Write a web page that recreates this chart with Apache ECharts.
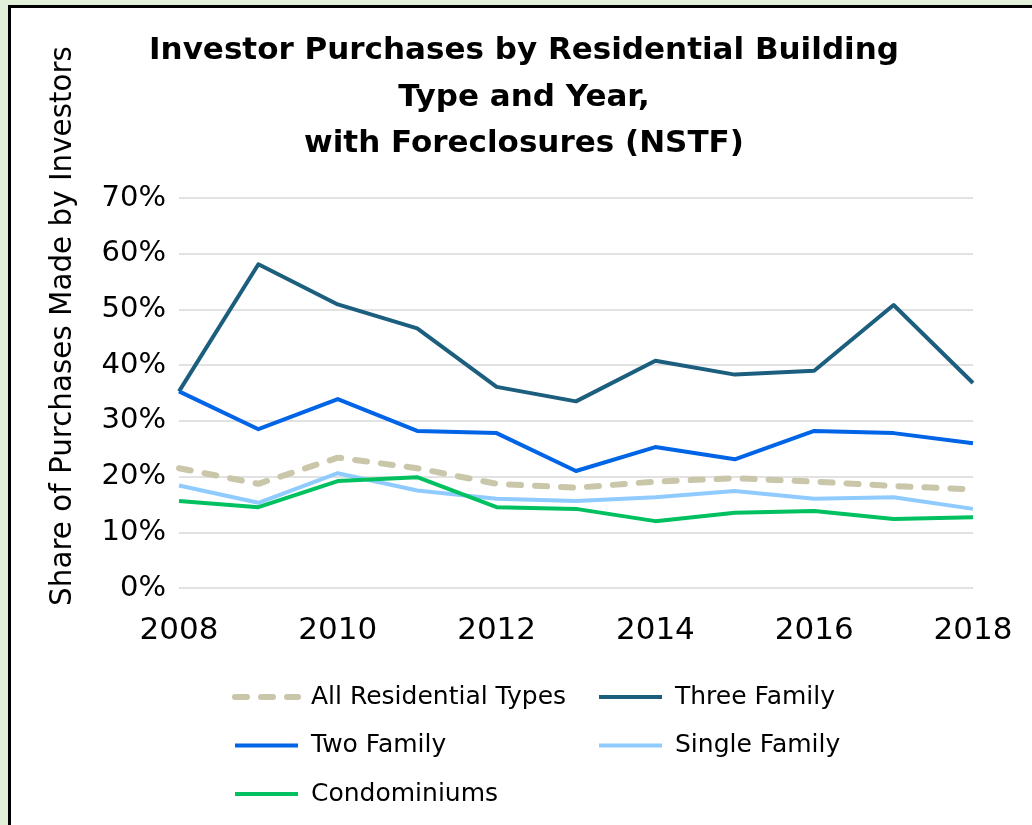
<!DOCTYPE html>
<html>
<head>
<meta charset="utf-8">
<script src="https://cdn.jsdelivr.net/npm/echarts@6/dist/echarts.min.js"></script>
<style>
  html, body { margin: 0; padding: 0; background: #E2EFD9; width: 1032px; height: 825px; overflow: hidden; }
  #frame { position: absolute; left: 8px; top: 5px; width: 1100px; height: 900px; background: #ffffff; border-left: 3px solid #000; border-top: 3px solid #000; }
  #chart { position: absolute; left: 0; top: 0; width: 1032px; height: 825px; }
</style>
</head>
<body>
<div id="frame"></div>
<div id="chart"></div>
<script>
const years = ['2008','2009','2010','2011','2012','2013','2014','2015','2016','2017','2018'];
const allResidential = [21.5, 18.7, 23.4, 21.5, 18.7, 18.0, 19.1, 19.7, 19.1, 18.3, 17.7];
const threeFamily    = [35.3, 58.1, 50.9, 46.6, 36.1, 33.5, 40.8, 38.3, 39.0, 50.8, 36.8];
const twoFamily      = [35.3, 28.5, 33.9, 28.2, 27.8, 21.0, 25.3, 23.1, 28.2, 27.8, 26.0];
const singleFamily   = [18.4, 15.3, 20.6, 17.5, 16.0, 15.6, 16.3, 17.4, 16.0, 16.3, 14.2];
const condominiums   = [15.6, 14.5, 19.2, 19.9, 14.5, 14.2, 12.0, 13.5, 13.8, 12.4, 12.7];
const yTicks = [0, 10, 20, 30, 40, 50, 60, 70];

const FONT = 'DejaVu Sans';
const chart = echarts.init(document.getElementById('chart'), null, { renderer: 'canvas' });

function lineSeries(name, data, color, width, dash, z) {
  return {
    name: name, type: 'line', data: data, symbol: 'none', smooth: false, z: z,
    lineStyle: { color: color, width: width, type: dash || 'solid', cap: dash ? 'round' : 'butt', join: 'round' },
    itemStyle: { color: color },
    emphasis: { disabled: true }
  };
}

const legendCommon = {
  orient: 'vertical', top: 678, itemWidth: 63, itemHeight: 14, itemGap: 20.5,
  textStyle: { fontFamily: FONT, fontSize: 25, color: '#000', lineHeight: 28, padding: [0, 0, 0, 8] },
  itemStyle: { opacity: 0 },
  lineStyle: { width: 'inherit', type: 'inherit', cap: 'inherit' },
  selectedMode: false
};

chart.setOption({
  backgroundColor: 'transparent',
  animation: false,
  title: {
    text: 'Investor Purchases by Residential Building\nType and Year,\nwith Foreclosures (NSTF)',
    left: 519, top: 23, textAlign: 'center',
    textStyle: { fontFamily: FONT, fontWeight: 'bold', fontSize: 31, lineHeight: 46.5, color: '#000' }
  },
  grid: { left: 179, right: 59, top: 198, bottom: 237, containLabel: false },
  xAxis: {
    type: 'category', data: years, boundaryGap: false,
    axisLine: { show: false }, axisTick: { show: false },
    axisLabel: { interval: 1, fontFamily: FONT, fontSize: 31, color: '#000', margin: 27 },
    splitLine: { show: false }
  },
  yAxis: {
    type: 'value', min: yTicks[0], max: yTicks[yTicks.length - 1], interval: 10,
    axisLine: { show: false }, axisTick: { show: false },
    axisLabel: { formatter: '{value}%', fontFamily: FONT, fontSize: 29, color: '#000', margin: 13 },
    splitLine: { lineStyle: { color: '#D9D9D9', width: 1.5 } }
  },
  graphic: [{
    type: 'text', x: 63, y: 326, rotation: Math.PI / 2,
    style: { text: 'Share of Purchases Made by Investors', fontFamily: FONT, fontSize: 29.4, fill: '#000', align: 'center', verticalAlign: 'middle' }
  }],
  legend: [
    Object.assign({}, legendCommon, { left: 227, data: ['All Residential Types', 'Two Family', 'Condominiums'] }),
    Object.assign({}, legendCommon, { left: 592, data: ['Three Family', 'Single Family'] })
  ],
  series: [
    lineSeries('All Residential Types', allResidential, '#C9C6AA', 6, [12, 14], 2),
    lineSeries('Three Family', threeFamily, '#1B5E7E', 4, null, 3),
    lineSeries('Two Family', twoFamily, '#0064E6', 4, null, 3),
    lineSeries('Single Family', singleFamily, '#8FCBFF', 4, null, 3),
    lineSeries('Condominiums', condominiums, '#00C060', 4, null, 4)
  ]
});
</script>
</body>
</html>
